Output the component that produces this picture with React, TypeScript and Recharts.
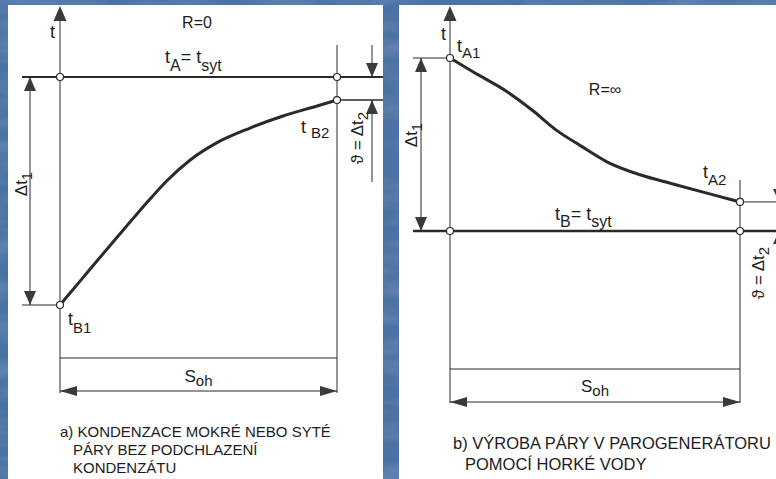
import React from 'react';
import { ComposedChart, Line, XAxis, YAxis, ReferenceLine, ReferenceDot } from 'recharts';

// ---------- data ----------
// a) condensation (R = 0): position along surface (fraction of S_oh) and temperature of fluid B
const sohA = [0, 0.083, 0.144, 0.206, 0.264, 0.325, 0.386, 0.469, 0.567, 0.686, 0.805, 0.928, 1];
const tempBA = [0, 12.0, 20.8, 29.7, 38.0, 46.5, 54.5, 63.5, 71.2, 77.6, 82.9, 87.3, 89.9];
const tSatA = 100; // tA = tsyt

// b) steam generator (R = ∞): temperature of hot water A
const sohB = [0, 0.079, 0.197, 0.286, 0.369, 0.448, 0.541, 0.655, 0.769, 0.886, 1];
const tempAB = [100, 92.0, 80.5, 69.5, 58.0, 49.5, 40.0, 32.5, 27.2, 21.9, 16.8];
const tSatB = 0; // tB = tsyt

const titleA = 'R=0';
const titleB = 'R=∞';
const captionA = ['a) KONDENZACE MOKRÉ NEBO SYTÉ', 'PÁRY BEZ PODCHLAZENÍ', 'KONDENZÁTU'];
const captionB = ['b) VÝROBA PÁRY V PAROGENERÁTORU', 'POMOCÍ HORKÉ VODY'];

// ---------- layout helpers ----------
const FONT = '"Liberation Sans", Arial, Helvetica, sans-serif';
const INK = '#2a2a2a';

type Frame = {
  left: number; top: number; width: number; height: number;
  xd: (px: number) => number; td: (py: number) => number;
  xDomain: [number, number]; yDomain: [number, number];
};

function makeFrame(left: number, top: number, width: number, height: number,
  xPx0: number, xPx1: number, tVal0: number, tPy0: number, tVal1: number, tPy1: number): Frame {
  const bx = xPx1 - xPx0;
  const by = (tPy1 - tPy0) / (tVal1 - tVal0);
  const xd = (px: number) => (px - xPx0) / bx;
  const td = (py: number) => tVal0 + (py - tPy0) / by;
  return { left, top, width, height, xd, td, xDomain: [xd(left), xd(left + width)], yDomain: [td(top + height), td(top)] };
}

type P = { x: number; y: number };
const seg = (key: string, a: P, b: P, w = 1) => (
  <ReferenceLine key={key} segment={[a, b]} stroke={INK} strokeWidth={w} ifOverflow="visible" />
);

const tri = (key: string, x: number, y: number, dir: 'up' | 'down' | 'left' | 'right', w = 12, h = 14) => (
  <ReferenceDot key={key} x={x} y={y} r={0} ifOverflow="visible"
    shape={(p: any) => {
      const { cx, cy } = p;
      let pts = '';
      if (dir === 'up') pts = `${cx},${cy} ${cx - w / 2},${cy + h} ${cx + w / 2},${cy + h}`;
      if (dir === 'down') pts = `${cx},${cy} ${cx - w / 2},${cy - h} ${cx + w / 2},${cy - h}`;
      if (dir === 'left') pts = `${cx},${cy} ${cx + h},${cy - w / 2} ${cx + h},${cy + w / 2}`;
      if (dir === 'right') pts = `${cx},${cy} ${cx - h},${cy - w / 2} ${cx - h},${cy + w / 2}`;
      return <polygon points={pts} fill="#3a3a3a" />;
    }} />
);

const dot = (key: string, x: number, y: number) => (
  <ReferenceDot key={key} x={x} y={y} r={3.5} fill="#ffffff" stroke={INK} strokeWidth={1.2} ifOverflow="visible" />
);

type Part = { s: string; sub?: boolean };
const txt = (key: string, x: number, y: number, parts: Part[],
  o: { anchor?: 'start' | 'middle' | 'end'; size?: number; subSize?: number; dy?: number; rotate?: boolean } = {}) => {
  const { anchor = 'start', size = 18, subSize = 15, dy = 6, rotate = false } = o;
  return (
    <ReferenceDot key={key} x={x} y={y} r={0} ifOverflow="visible"
      shape={(p: any) => {
        const { cx, cy } = p;
        let down = false;
        return (
          <text x={cx} y={cy} textAnchor={anchor} fontFamily={FONT} fontSize={size} fill="#1c1c1c"
            transform={rotate ? `rotate(-90 ${cx} ${cy})` : undefined}>
            {parts.map((pt, i) => {
              const shift = pt.sub && !down ? dy : !pt.sub && down ? -dy : 0;
              down = !!pt.sub;
              return <tspan key={i} dy={shift} fontSize={pt.sub ? subSize : size}>{pt.s}</tspan>;
            })}
          </text>
        );
      }} />
  );
};

const plain = (s: string): Part[] => [{ s }];

// ---------- panels ----------
const FA = makeFrame(8, 5, 375, 474, 60, 337, tempBA[0], 305, tSatA, 77);
const FB = makeFrame(399, 5, 377, 474, 450, 740, tSatB, 231, tempAB[0], 58);

function PanelA() {
  const X = FA.xd, T = FA.td;
  const tB1 = tempBA[0];
  const tB2 = tempBA[tempBA.length - 1];
  const rows = sohA.map((x, i) => ({ x, t: tempBA[i] }));
  return (
    <div style={{ position: 'absolute', left: FA.left, top: FA.top, width: FA.width, height: FA.height, background: '#ffffff' }}>
      <ComposedChart width={FA.width} height={FA.height} data={rows} margin={{ top: 0, right: 0, bottom: 0, left: 0 }}>
        <XAxis type="number" dataKey="x" domain={FA.xDomain} hide allowDataOverflow />
        <YAxis type="number" domain={FA.yDomain} hide allowDataOverflow />
        {seg('axis', { x: 0, y: T(20) }, { x: 0, y: T(393) })}
        {seg('tA', { x: X(22), y: tSatA }, { x: X(383), y: tSatA }, 2)}
        {seg('right', { x: 1, y: T(45) }, { x: 1, y: T(393) })}
        {seg('tB2', { x: 1, y: tB2 }, { x: X(383), y: tB2 }, 1.5)}
        {seg('tB1', { x: X(22), y: tB1 }, { x: 0, y: tB1 })}
        {seg('dt1', { x: X(30), y: tSatA }, { x: X(30), y: tB1 })}
        {seg('base', { x: 0, y: T(358) }, { x: 1, y: T(358) })}
        {seg('soh', { x: 0, y: T(391) }, { x: 1, y: T(391) })}
        {seg('th1', { x: X(372), y: T(45) }, { x: X(372), y: tSatA })}
        {seg('th2', { x: X(372), y: tB2 }, { x: X(372), y: T(182) })}
        <Line type="monotone" dataKey="t" stroke={INK} strokeWidth={3} dot={false} isAnimationActive={false} />
        {tri('ax', 0, T(6), 'up', 13, 15)}
        {tri('d1u', X(30), tSatA, 'up', 12, 14)}
        {tri('d1d', X(30), tB1, 'down', 12, 14)}
        {tri('thd', X(372), tSatA, 'down', 12, 14)}
        {tri('thu', X(372), tB2, 'up', 12, 14)}
        {tri('sl', 0, T(391), 'left', 10, 17)}
        {tri('sr', 1, T(391), 'right', 10, 17)}
        {dot('p1', 0, tSatA)}
        {dot('p2', 1, tSatA)}
        {dot('p3', 1, tB2)}
        {dot('p4', 0, tB1)}
        {txt('t', X(52.5), T(38), plain('t'), { anchor: 'middle' })}
        {txt('R', X(197), T(28), plain(titleA), { anchor: 'middle', size: 16 })}
        {txt('tA', X(165), T(63), [{ s: 't' }, { s: 'A', sub: true }, { s: '= t' }, { s: 'syt', sub: true }], { dy: 8, subSize: 16 })}
        {txt('tB2l', X(301), T(133), [{ s: 't ' }, { s: 'B2', sub: true }], { dy: 5 })}
        {txt('tB1l', X(68), T(325), [{ s: 't' }, { s: 'B1', sub: true }], { dy: 8 })}
        {txt('th', X(363), T(138), [{ s: 'ϑ = Δt' }, { s: '2', sub: true }], { anchor: 'middle', rotate: true, dy: 5, size: 17 })}
        {txt('dt', X(27), T(184), [{ s: 'Δt' }, { s: '1', sub: true }], { anchor: 'middle', rotate: true, dy: 5, size: 17 })}
        {txt('S', X(198.5), T(382), [{ s: 'S' }, { s: 'oh', sub: true }], { anchor: 'middle', dy: 4, size: 17 })}
        {txt('c1', X(60), T(437), plain(captionA[0]), { size: 15 })}
        {txt('c2', X(73), T(455), plain(captionA[1]), { size: 15 })}
        {txt('c3', X(73), T(473), plain(captionA[2]), { size: 15 })}
      </ComposedChart>
    </div>
  );
}

function PanelB() {
  const X = FB.xd, T = FB.td;
  const tA1 = tempAB[0];
  const tA2 = tempAB[tempAB.length - 1];
  const rows = sohB.map((x, i) => ({ x, t: tempAB[i] }));
  return (
    <div style={{ position: 'absolute', left: FB.left, top: FB.top, width: FB.width, height: FB.height, background: '#ffffff' }}>
      <ComposedChart width={FB.width} height={FB.height} data={rows} margin={{ top: 0, right: 0, bottom: 0, left: 0 }}>
        <XAxis type="number" dataKey="x" domain={FB.xDomain} hide allowDataOverflow />
        <YAxis type="number" domain={FB.yDomain} hide allowDataOverflow />
        {seg('axis', { x: 0, y: T(20) }, { x: 0, y: T(403) })}
        {seg('tA1', { x: X(413), y: tA1 }, { x: 0, y: tA1 })}
        {seg('dt1', { x: X(421), y: tA1 }, { x: X(421), y: tSatB })}
        {seg('tB', { x: X(413), y: tSatB }, { x: X(776), y: tSatB }, 2.5)}
        {seg('tA2', { x: 1, y: tA2 }, { x: X(776), y: tA2 })}
        {seg('right', { x: 1, y: T(180) }, { x: 1, y: T(403) })}
        {seg('base', { x: 0, y: T(369) }, { x: 1, y: T(369) })}
        {seg('soh', { x: 0, y: T(402) }, { x: 1, y: T(402) })}
        {seg('th1', { x: X(779), y: T(170) }, { x: X(779), y: tA2 })}
        {seg('th2', { x: X(779), y: tSatB }, { x: X(779), y: T(300) })}
        <Line type="monotone" dataKey="t" stroke={INK} strokeWidth={3} dot={false} isAnimationActive={false} />
        {tri('ax', 0, T(6), 'up', 13, 15)}
        {tri('d1u', X(421), tA1, 'up', 12, 14)}
        {tri('d1d', X(421), tSatB, 'down', 12, 14)}
        {tri('thd', X(779), tA2, 'down', 12, 13)}
        {tri('thu', X(779), tSatB, 'up', 12, 13)}
        {tri('sl', 0, T(402), 'left', 10, 17)}
        {tri('sr', 1, T(402), 'right', 10, 17)}
        {dot('p1', 0, tA1)}
        {dot('p2', 1, tA2)}
        {dot('p3', 0, tSatB)}
        {dot('p4', 1, tSatB)}
        {txt('t', X(443.5), T(40), plain('t'), { anchor: 'middle' })}
        {txt('R', X(605), T(95), plain(titleB), { anchor: 'middle', size: 16 })}
        {txt('tA1l', X(457), T(52), [{ s: 't' }, { s: 'A1', sub: true }], { dy: 6 })}
        {txt('tA2l', X(703), T(178), [{ s: 't' }, { s: 'A2', sub: true }], { dy: 7 })}
        {txt('tB', X(555), T(220), [{ s: 't' }, { s: 'B', sub: true }, { s: '= t' }, { s: 'syt', sub: true }], { dy: 7, subSize: 16 })}
        {txt('dt', X(417), T(135), [{ s: 'Δt' }, { s: '1', sub: true }], { anchor: 'middle', rotate: true, dy: 5, size: 17 })}
        {txt('th', X(764), T(273), [{ s: 'ϑ = Δt' }, { s: '2', sub: true }], { anchor: 'middle', rotate: true, dy: 5, size: 17 })}
        {txt('S', X(595), T(392), [{ s: 'S' }, { s: 'oh', sub: true }], { anchor: 'middle', dy: 4, size: 17 })}
        {txt('c1', X(453), T(449), plain(captionB[0]), { size: 16.5 })}
        {txt('c2', X(465), T(470), plain(captionB[1]), { size: 16.5 })}
      </ComposedChart>
    </div>
  );
}

export default function App() {
  return (
    <div style={{ position: 'absolute', left: 0, top: 0, width: 776, height: 479, overflow: 'hidden', background: '#4d74a7' }}>
      <svg width={776} height={479} style={{ position: 'absolute', left: 0, top: 0 }}>
        <defs>
          <filter id="mottle" x="0" y="0" width="100%" height="100%">
            <feTurbulence type="fractalNoise" baseFrequency="0.012 0.05" numOctaves="3" seed="7" />
            <feColorMatrix type="matrix" values="0 0 0 0 1  0 0 0 0 1  0 0 0 0 1  0.9 0 0 0 -0.35" />
          </filter>
        </defs>
        <rect x={0} y={0} width={776} height={479} fill="#4b72a5" />
        <rect x={0} y={0} width={776} height={479} filter="url(#mottle)" opacity={0.35} />
      </svg>
      <PanelA />
      <PanelB />
    </div>
  );
}
